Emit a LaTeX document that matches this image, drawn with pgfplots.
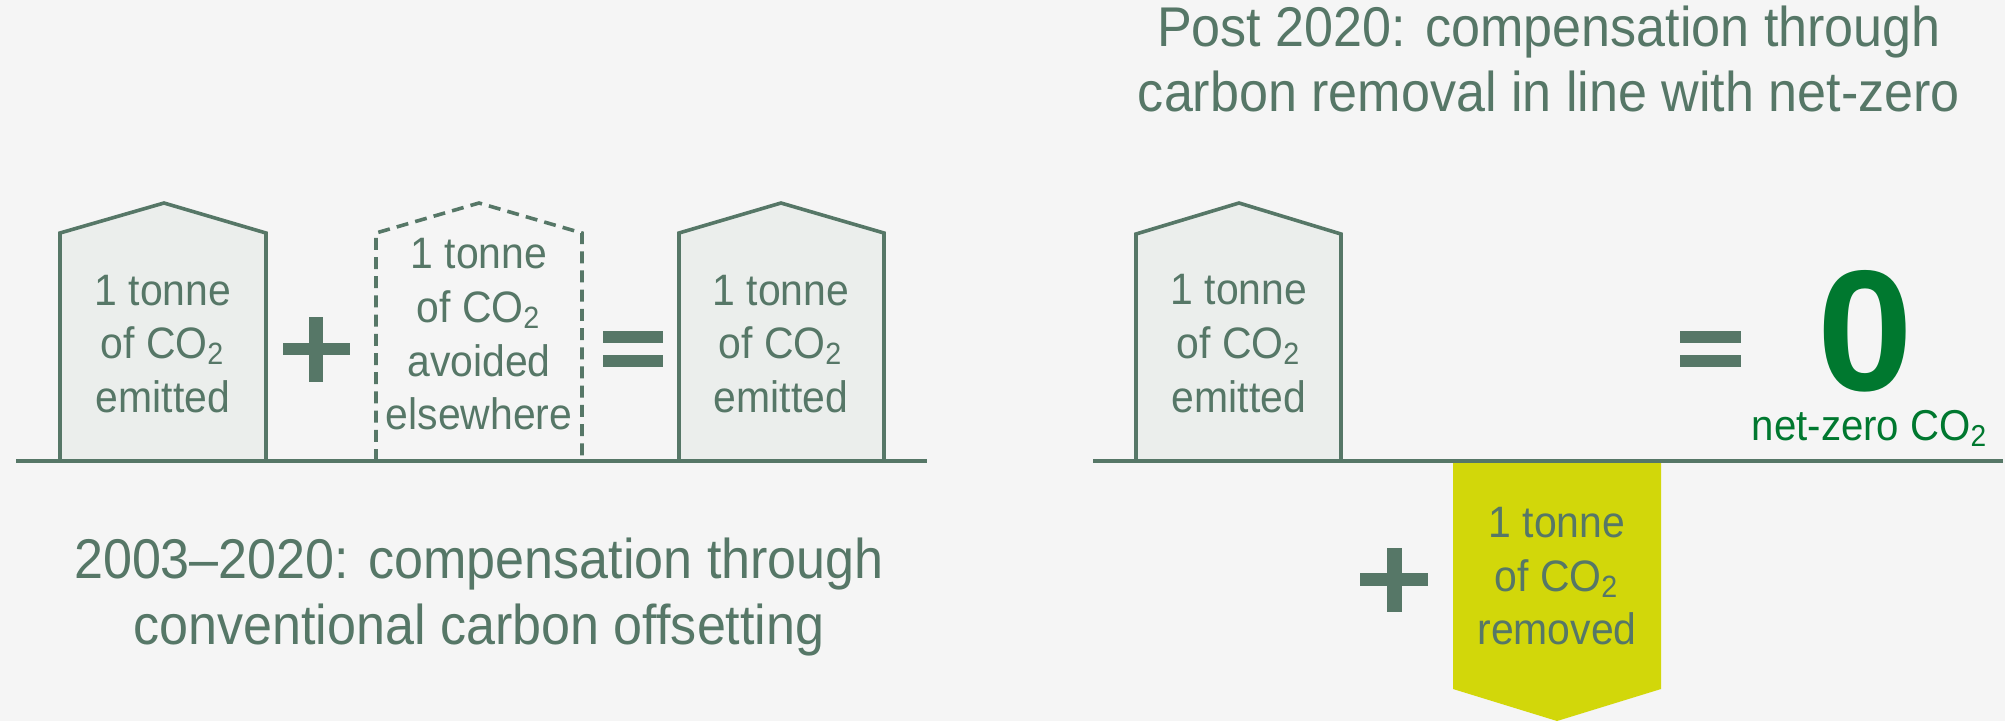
\documentclass[border=0pt]{standalone}
\usepackage{fontspec}
\setmainfont{Liberation Sans}[FakeStretch=0.93]
\newfontfamily\zerofont{Liberation Sans}
\usepackage{pgfplots}
\pgfplotsset{compat=1.18}
\definecolor{bg}{HTML}{F5F5F5}
\definecolor{ink}{HTML}{567767}
\definecolor{housefill}{HTML}{EBEEEC}
\definecolor{lime}{HTML}{D2D70A}
\definecolor{zgreen}{HTML}{00782F}
\newcommand{\co}{CO\textsubscript{2}}
\tikzset{
  lbl/.style={text=ink, anchor=base, inner sep=0pt, outer sep=0pt, font=\fontsize{11}{13}\selectfont},
  ttl/.style={text=ink, anchor=base, inner sep=0pt, outer sep=0pt, font=\fontsize{14}{16}\selectfont},
}
\begin{document}
\begin{tikzpicture}
\begin{axis}[
  scale only axis, width=501.25pt, height=180.25pt,
  xmin=0, xmax=2005, ymin=0, ymax=721, y dir=reverse,
  hide axis, clip=false,
]
\fill[bg] (rel axis cs:0,0) rectangle (rel axis cs:1,1);
% yellow removal box
\addplot[fill=lime, draw=none] coordinates {(1453,460) (1661,460) (1661,689) (1557,721) (1453,689)} -- cycle;
% houses
\addplot[fill=housefill, draw=ink, line width=0.9pt] coordinates {(60,461) (60,233) (164,203) (266,233) (266,461)} -- cycle;
\addplot[draw=ink, line width=0.9pt, dash pattern=on 3pt off 1.8pt] coordinates {(376,461) (376,233) (479,203) (582,233) (582,461)};
\addplot[fill=housefill, draw=ink, line width=0.9pt] coordinates {(679,461) (679,233) (781,203) (884,233) (884,461)} -- cycle;
\addplot[fill=housefill, draw=ink, line width=0.9pt] coordinates {(1136,461) (1136,234) (1239,203) (1341,234) (1341,461)} -- cycle;
% baselines
\addplot[draw=ink, line width=0.9pt] coordinates {(16,461) (927,461)};
\addplot[draw=ink, line width=0.9pt] coordinates {(1093,461) (2003,461)};
% plus signs
\addplot[fill=ink, draw=none] coordinates {(283,343) (350,343) (350,355) (283,355)} -- cycle;
\addplot[fill=ink, draw=none] coordinates {(309,317) (323,317) (323,382) (309,382)} -- cycle;
\addplot[fill=ink, draw=none] coordinates {(1360,573) (1428,573) (1428,586) (1360,586)} -- cycle;
\addplot[fill=ink, draw=none] coordinates {(1387,548) (1402,548) (1402,612) (1387,612)} -- cycle;
% equals signs
\addplot[fill=ink, draw=none] coordinates {(603,331) (663,331) (663,343) (603,343)} -- cycle;
\addplot[fill=ink, draw=none] coordinates {(603,355) (663,355) (663,367) (603,367)} -- cycle;
\addplot[fill=ink, draw=none] coordinates {(1680,331) (1741,331) (1741,343) (1680,343)} -- cycle;
\addplot[fill=ink, draw=none] coordinates {(1680,355) (1741,355) (1741,367) (1680,367)} -- cycle;
% box texts
\node[lbl] at (axis cs:163,305) {1 tonne};
\node[lbl] at (axis cs:163,358) {of \co};
\node[lbl] at (axis cs:163,412) {emitted};
\node[lbl] at (axis cs:479,268) {1 tonne};
\node[lbl] at (axis cs:479,322) {of \co};
\node[lbl] at (axis cs:479,376) {avoided};
\node[lbl] at (axis cs:479,429) {elsewhere};
\node[lbl] at (axis cs:781,305) {1 tonne};
\node[lbl] at (axis cs:781,358) {of \co};
\node[lbl] at (axis cs:781,412) {emitted};
\node[lbl] at (axis cs:1239,304) {1 tonne};
\node[lbl] at (axis cs:1239,358) {of \co};
\node[lbl] at (axis cs:1239,412) {emitted};
\node[lbl] at (axis cs:1557,537) {1 tonne};
\node[lbl] at (axis cs:1557,591) {of \co};
\node[lbl] at (axis cs:1557,644) {removed};
% titles
\node[ttl] at (axis cs:1549,46) {Post 2020: compensation through};
\node[ttl] at (axis cs:1549,111) {carbon removal in line with net-zero};
\node[ttl] at (axis cs:479,578) {2003\textendash2020: compensation through};
\node[ttl] at (axis cs:479,644) {conventional carbon offsetting};
% zero
\node[lbl, text=zgreen, font=\zerofont\fontsize{43}{44}\bfseries\selectfont] at (axis cs:1865,390) {\raisebox{0pt}[\height][0pt]{0}};
\node[lbl, text=zgreen, font=\fontsize{10.8}{12}\selectfont] at (axis cs:1870,440) {net-zero \co};
\end{axis}
\end{tikzpicture}
\end{document}
